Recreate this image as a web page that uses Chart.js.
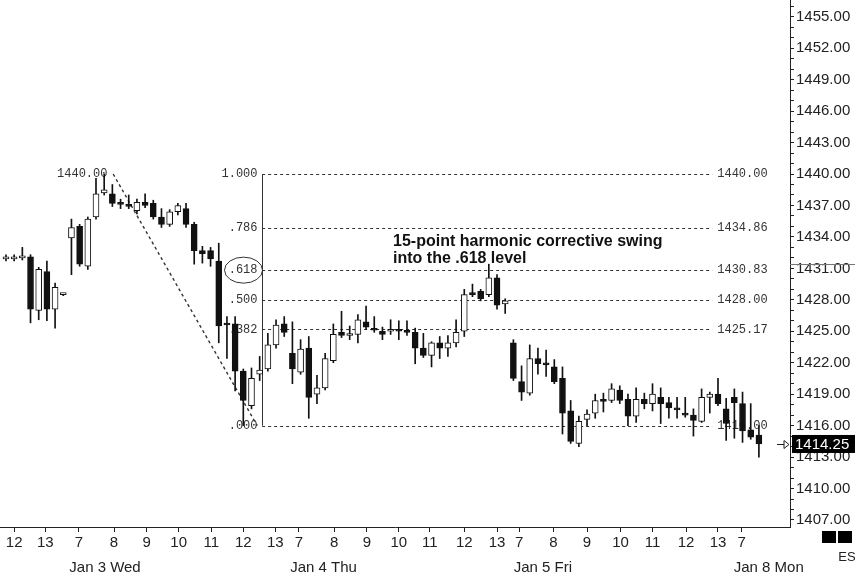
<!DOCTYPE html>
<html><head><meta charset="utf-8">
<script src="https://cdn.jsdelivr.net/npm/chart.js@4.4.0/dist/chart.umd.min.js"></script>
<style>html,body{margin:0;padding:0;background:#fff;overflow:hidden}#wrap{width:855px;height:578px;position:relative}</style>
</head><body><div id="wrap"><canvas id="c" width="855" height="578"></canvas></div>
<script>
// ---- Data (15-minute ES bars) ----
const opens  = [1431.9,1431.9,1432.0,1432.1,1427.0,1430.7,1427.1,1428.5,1433.9,1435.0,1431.2,1435.9,1438.2,1438.1,1437.2,1437.1,1436.5,1437.3,1437.2,1435.9,1435.2,1436.4,1436.7,1435.2,1432.7,1432.7,1431.7,1425.7,1425.7,1421.2,1417.9,1420.9,1421.4,1423.7,1425.7,1422.9,1421.1,1423.4,1419.0,1419.6,1422.2,1424.9,1424.6,1424.7,1425.9,1425.2,1425.0,1425.0,1425.1,1425.1,1424.9,1423.4,1422.7,1423.9,1423.4,1423.9,1425.0,1428.7,1428.8,1428.5,1430.1,1427.6,1423.9,1420.2,1419.1,1422.4,1422.0,1421.6,1420.5,1417.4,1414.3,1416.6,1417.2,1418.5,1418.4,1419.4,1418.5,1416.9,1418.5,1418.1,1418.7,1418.2,1417.7,1417.2,1417.0,1416.4,1418.7,1419.0,1417.6,1418.7,1418.1,1415.6,1415.1];
const highs  = [1432.3,1432.3,1433.0,1432.3,1431.1,1431.7,1429.6,1428.6,1435.7,1435.2,1435.9,1439.6,1440.0,1439.0,1437.6,1438.0,1437.6,1438.1,1437.5,1436.7,1436.6,1437.2,1437.2,1435.4,1433.1,1433.0,1433.4,1426.4,1426.4,1421.4,1421.5,1422.6,1424.8,1426.1,1426.4,1425.9,1424.2,1424.5,1420.8,1422.9,1425.7,1426.9,1425.5,1426.6,1427.4,1426.4,1425.4,1426.1,1426.0,1426.0,1425.3,1424.8,1424.0,1424.5,1424.6,1426.1,1429.0,1429.5,1429.0,1431.4,1430.4,1428.1,1424.2,1421.7,1423.7,1423.4,1423.2,1422.3,1421.6,1418.4,1416.9,1417.5,1419.0,1419.1,1420.0,1419.8,1419.0,1419.6,1419.1,1420.0,1419.6,1418.7,1418.7,1418.7,1417.6,1419.5,1419.2,1420.5,1418.6,1419.5,1419.2,1418.1,1416.0];
const lows   = [1431.7,1431.7,1431.8,1425.8,1426.1,1426.0,1425.3,1428.4,1430.4,1431.2,1430.9,1435.7,1438.0,1436.9,1436.7,1436.7,1436.2,1436.8,1435.7,1434.9,1435.0,1436.1,1434.9,1431.4,1431.5,1431.2,1423.9,1422.4,1419.3,1416.0,1417.6,1420.3,1421.2,1423.4,1424.5,1420.0,1420.9,1416.7,1418.1,1419.4,1422.0,1424.4,1424.2,1423.9,1425.2,1424.9,1424.2,1424.7,1424.2,1424.6,1421.9,1422.5,1421.6,1422.4,1422.6,1423.5,1424.5,1428.3,1427.9,1428.3,1427.1,1426.7,1420.3,1418.4,1418.9,1420.9,1420.7,1420.0,1415.2,1414.3,1414.0,1416.0,1416.7,1417.3,1418.2,1418.1,1416.0,1416.3,1417.6,1417.4,1416.2,1416.7,1416.7,1416.8,1415.0,1416.3,1417.2,1417.9,1414.6,1414.8,1414.4,1414.7,1413.0];
const closes = [1431.9,1432.0,1432.1,1427.1,1430.9,1427.1,1429.2,1428.5,1434.9,1431.4,1435.7,1438.1,1438.5,1437.2,1437.1,1436.9,1437.3,1437.0,1435.9,1435.2,1436.4,1437.0,1435.2,1432.7,1432.4,1431.9,1425.5,1425.6,1421.2,1418.4,1420.5,1421.3,1423.7,1425.6,1424.9,1421.4,1423.3,1418.7,1419.6,1422.4,1424.7,1424.6,1424.7,1426.1,1425.4,1425.1,1424.7,1425.0,1425.0,1424.9,1423.4,1422.7,1423.9,1423.4,1423.9,1424.9,1428.5,1428.5,1428.1,1430.1,1427.5,1427.9,1420.5,1419.2,1422.4,1421.9,1421.8,1420.2,1417.2,1414.5,1416.4,1417.1,1418.4,1418.3,1419.5,1418.4,1416.9,1418.5,1418.1,1419.0,1418.1,1417.7,1417.5,1417.0,1416.5,1418.7,1419.0,1418.1,1416.2,1418.2,1415.5,1414.9,1414.25];

// x-axis hour ticks (bar-index positions) and labels
const tickPos    = [1,4.8,8.9,13.2,17.2,21.1,25.1,29,32.9,35.8,40.1,44.1,48,51.8,56,60,62.7,66.9,71,75.1,79,83.1,87,89.9];
const tickLabels = ['12','13','7','8','9','10','11','12','13','7','8','9','10','11','12','13','7','8','9','10','11','12','13','7'];
const dayLabels  = ['Jan 3 Wed','Jan 4 Thu','Jan 5 Fri','Jan 8 Mon'];
const dayPos     = [12.1,38.8,65.6,93.2];

// price axis ticks
const yTickMin = 1407, yTickMax = 1456, yLabelStep = 3;

// Fibonacci retracement drawing
const fibRatios = ['1.000','.786','.618','.500','.382','.000'];
const fibPrices = [1440.00,1434.86,1430.83,1428.00,1425.17,1416.00];
const fibStartIdx = 31.3, fibEndIdx = 86.3;
const swingX = [13.1, 30.7];
const swingY = [1440, 1416];
const highLabel = '1440.00', highLabelIdx = 12.4;
const noteLines = ['15-point harmonic corrective swing','into the .618 level'];
const noteIdx = 47.3, notePrices = [1433.55, 1431.94];
const lastPrice = 1414.25;
const cursorPrice = 1431.4;

// ---- build ----
const yTicks = []; for (let v = yTickMin; v <= yTickMax; v++) yTicks.push(v);
const idx = opens.map((_, i) => i);
const bodies = idx.map(i => ({x: i, y: [opens[i], closes[i]]}));
const wicks  = idx.map(i => ({x: i, y: [lows[i], highs[i]]}));
const bodyColors = idx.map(i => closes[i] < opens[i] ? '#111' : '#fff');

Chart.defaults.font.family = '"Liberation Sans", Arial, sans-serif';
Chart.defaults.color = '#222';

const fibPlugin = {
  id: 'fib',
  beforeDatasetsDraw(chart) {
    const ctx = chart.ctx, xs = chart.scales.x, ys = chart.scales.y;
    const X = v => xs.getPixelForValue(v), Y = v => ys.getPixelForValue(v);
    ctx.save();
    ctx.strokeStyle = '#333'; ctx.lineWidth = 1; ctx.setLineDash([3, 3]);
    fibPrices.forEach(p => {
      const y = Math.round(Y(p)) + 0.5;
      ctx.beginPath(); ctx.moveTo(X(fibStartIdx), y); ctx.lineTo(X(fibEndIdx), y); ctx.stroke();
    });
    ctx.setLineDash([]);
    const vx = Math.round(X(fibStartIdx)) + 0.5;
    ctx.beginPath(); ctx.moveTo(vx, Y(fibPrices[0])); ctx.lineTo(vx, Y(fibPrices[fibPrices.length - 1])); ctx.stroke();
    ctx.font = '12px "Liberation Mono", "DejaVu Sans Mono", monospace';
    ctx.fillStyle = '#333'; ctx.textBaseline = 'middle';
    ctx.textAlign = 'right';
    fibRatios.forEach((r, i) => ctx.fillText(r, vx - 5, Y(fibPrices[i])));
    ctx.textAlign = 'left';
    fibPrices.forEach(p => ctx.fillText(p.toFixed(2), X(fibEndIdx) + 5, Y(p)));
    ctx.beginPath(); ctx.ellipse(vx - 19, Y(fibPrices[2]), 19, 13, 0, 0, 2 * Math.PI); ctx.stroke();
    ctx.textAlign = 'right';
    ctx.fillText(highLabel, X(highLabelIdx), Y(swingY[0]));
    ctx.font = 'bold 16px "Liberation Sans", Arial, sans-serif';
    ctx.fillStyle = '#111'; ctx.textAlign = 'left';
    noteLines.forEach((t, i) => ctx.fillText(t, X(noteIdx), Y(notePrices[i])));
    ctx.restore();
  },
  afterDraw(chart) {
    const ctx = chart.ctx, xs = chart.scales.x, ys = chart.scales.y, ca = chart.chartArea;
    const X = v => xs.getPixelForValue(v), Y = v => ys.getPixelForValue(v);
    ctx.save();
    // cursor line on price axis
    ctx.strokeStyle = '#777'; ctx.lineWidth = 1;
    const cy = Math.round(Y(cursorPrice)) + 0.5;
    ctx.beginPath(); ctx.moveTo(ca.right, cy); ctx.lineTo(chart.width, cy); ctx.stroke();
    // last price box
    const ly = Y(lastPrice);
    ctx.fillStyle = '#000'; ctx.fillRect(ca.right + 2, ly - 9, chart.width - ca.right - 2, 18);
    ctx.fillStyle = '#fff'; ctx.font = '15px "Liberation Sans", Arial, sans-serif';
    ctx.textBaseline = 'middle'; ctx.textAlign = 'left';
    ctx.fillText(lastPrice.toFixed(2), ca.right + 5, ly + 1);
    // arrow
    ctx.strokeStyle = '#222'; ctx.lineWidth = 1;
    const ay = Math.round(ly) + 0.5;
    ctx.beginPath(); ctx.moveTo(ca.right - 13, ay); ctx.lineTo(ca.right - 6, ay); ctx.stroke();
    ctx.beginPath(); ctx.moveTo(ca.right - 6, ay - 4); ctx.lineTo(ca.right - 1, ay); ctx.lineTo(ca.right - 6, ay + 4); ctx.closePath(); ctx.stroke();
    // squares & symbol
    ctx.fillStyle = '#000';
    ctx.fillRect(822, 531, 14, 12); ctx.fillRect(838, 531, 14, 12);
    ctx.fillStyle = '#222'; ctx.font = '13px "Liberation Sans", Arial, sans-serif';
    ctx.textAlign = 'center'; ctx.fillText('ES', 847, 557);
    // day labels
    ctx.font = '15px "Liberation Sans", Arial, sans-serif';
    dayLabels.forEach((t, i) => ctx.fillText(t, X(dayPos[i]), 568));
    ctx.restore();
  }
};

new Chart(document.getElementById('c'), {
  type: 'bar',
  data: {
    datasets: [
      {type: 'bar', data: bodies, grouped: false, barThickness: 6, borderWidth: 1, borderSkipped: false,
       minBarLength: 2, backgroundColor: bodyColors, borderColor: '#111', order: 0},
      {type: 'bar', data: wicks, grouped: false, barThickness: 1, borderWidth: 0, backgroundColor: '#111', order: 1},
      {type: 'line', data: swingX.map((x, i) => ({x, y: swingY[i]})), borderColor: '#333', borderWidth: 1.4,
       borderDash: [3, 3], pointRadius: 0, order: 2}
    ]
  },
  options: {
    responsive: false, animation: false,
    layout: {padding: 0},
    plugins: {legend: {display: false}, tooltip: {enabled: false}},
    scales: {
      x: {
        type: 'linear', min: -0.73, max: 95.8, offset: false,
        grid: {drawOnChartArea: false, drawTicks: true, tickLength: 5, color: '#222', offset: false},
        border: {display: true, color: '#222', width: 1},
        ticks: {autoSkip: false, maxRotation: 0, padding: 2, color: '#222',
          font: {size: 15}, callback: (v, i) => tickLabels[i]},
        afterBuildTicks: s => { s.ticks = tickPos.map(v => ({value: v})); },
        afterFit: s => { s.height = 51; s.paddingLeft = 0; s.paddingRight = 0; }
      },
      y: {
        type: 'linear', position: 'right', min: 1406.33, max: 1456.6,
        grid: {drawOnChartArea: false, drawTicks: true, tickLength: 4, color: '#222'},
        border: {display: true, color: '#222', width: 1},
        ticks: {autoSkip: false, padding: 2, color: '#222', font: {size: 15},
          callback: v => ((Math.round(v) - yTickMin) % yLabelStep === 0 ? v.toFixed(2) : '')},
        afterBuildTicks: s => { s.ticks = yTicks.map(v => ({value: v})); },
        afterFit: s => { s.width = 65; s.paddingTop = 0; s.paddingBottom = 0; }
      }
    }
  },
  plugins: [fibPlugin]
});
</script></body></html>
